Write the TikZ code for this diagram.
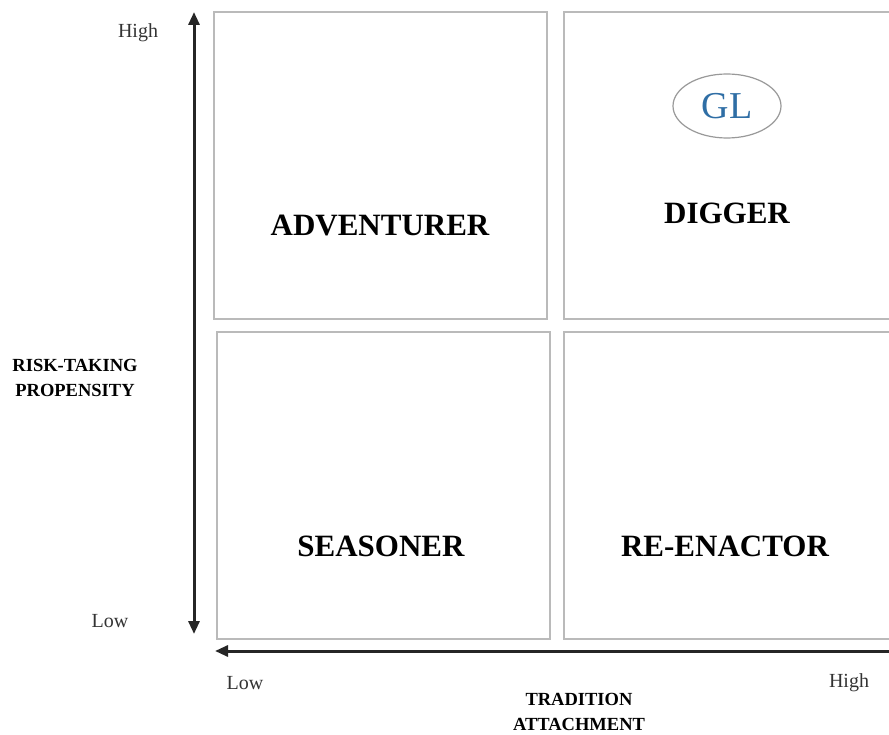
\documentclass[tikz,border=0pt]{standalone}
\usepackage{fontspec}
\setmainfont{Liberation Serif}
\usetikzlibrary{arrows.meta, positioning, calc, shapes.geometric}
\definecolor{glblue}{HTML}{2F6EA5}

\begin{document}
\begin{tikzpicture}[
  x=1pt, y=-1pt,
  quad/.style = {draw=black!27, line width=2.2pt, anchor=north west, minimum width=333pt, minimum height=307pt, inner sep=0pt},
  quad_label/.style = {font=\fontsize{31}{37}\selectfont\bfseries},
  axis/.style = {line width=3pt, draw=black!85},
  tick_label/.style = {font=\fontsize{20}{24}\selectfont, text=black!80},
  axis_label/.style = {font=\fontsize{18.5}{25.5}\selectfont\bfseries, align=center},
  gl_mark/.style = {ellipse, draw=black!40, line width=1.2pt, minimum width=108pt, minimum height=64pt, inner sep=0pt, text=glblue, font=\fontsize{38}{40}\selectfont}
]

\useasboundingbox (0,0) rectangle (889,735);
\clip (0,0) rectangle (889,735);

%--------------------------------------------------
% Quadrants (boxes)
%--------------------------------------------------
\node[quad] (adventurer) at (213,11) {};
\node[quad, minimum width=345pt] (digger) at (563,11) {};
\node[quad] (seasoner) at (216,331) {};
\node[quad, minimum width=345pt] (reenactor) at (563,331) {};

%--------------------------------------------------
% Quadrant labels
%--------------------------------------------------
\node[quad_label] (t_adventurer) at (380,226) {ADVENTURER};
\node[quad_label] (t_digger) at (727,213) {DIGGER};
\node[quad_label] (t_seasoner) at (381,546) {SEASONER};
\node[quad_label] (t_reenactor) at (725,546) {RE-ENACTOR};

\node[gl_mark] (gl) at (727,106) {GL};

%--------------------------------------------------
% Axes
%--------------------------------------------------
\coordinate (y_low) at (194,634);
\coordinate (y_high) at (194,12);
\coordinate (x_low) at (215,651);
\coordinate (x_high) at (900,651);

\draw[axis, {Triangle[width=11pt,length=13pt]}-{Triangle[width=11pt,length=13pt]}] (y_low) -- (y_high);
\draw[axis, -{Triangle[width=11pt,length=13pt]}] (x_high) -- (x_low);

% axis texts
\node[tick_label] (l_high) at (138,33) {High};
\node[tick_label] (l_low) at (110,621) {Low};
\node[axis_label] (l_risk) at (75,378) {RISK-TAKING\\PROPENSITY};

\node[tick_label] (b_low) at (245,683) {Low};
\node[tick_label] (b_high) at (849,683) {High};
\node[axis_label] (l_tradition) at (579,712) {TRADITION\\ATTACHMENT};

\end{tikzpicture}
\end{document}
